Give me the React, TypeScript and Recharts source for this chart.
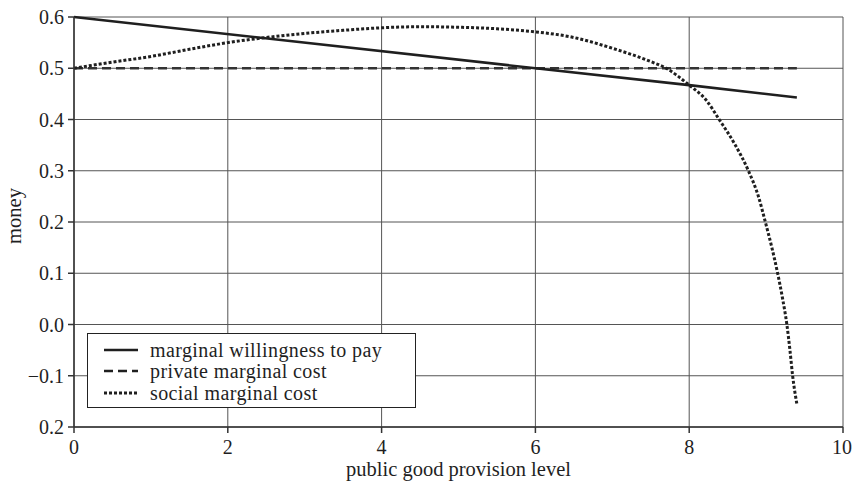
import React from 'react';
import { LineChart, Line, XAxis, YAxis, CartesianGrid, Label } from 'recharts';

// values
const wtpX = [0, 6, 8, 9.4];
const wtpY = [0.6, 0.5, 0.467, 0.443];

const privateX = [0, 9.4];
const privateY = [0.5, 0.5];

const socialX = [0, 0.5, 1, 1.5, 2, 2.5, 3, 3.5, 4, 4.5, 5, 5.5, 6, 6.5, 7, 7.5, 7.7, 8, 8.22, 8.39, 8.6, 8.77, 8.9, 8.99, 9.075, 9.15, 9.215, 9.27, 9.31, 9.345, 9.4];
const socialY = [0.5, 0.512, 0.523, 0.537, 0.55, 0.56, 0.568, 0.574, 0.579, 0.581, 0.58, 0.577, 0.571, 0.56, 0.539, 0.513, 0.5, 0.467, 0.438, 0.4, 0.35, 0.3, 0.25, 0.2, 0.15, 0.1, 0.05, 0.0, -0.05, -0.1, -0.155];

const xTicks = [0, 2, 4, 6, 8, 10];
const yTicks = [-0.2, -0.1, 0, 0.1, 0.2, 0.3, 0.4, 0.5, 0.6];
const yTickLabels = ['0.2', '\u22120.1', '0.0', '0.1', '0.2', '0.3', '0.4', '0.5', '0.6'];

const seriesNames = ['marginal willingness to pay', 'private marginal cost', 'social marginal cost'];

const toRows = (xs: number[], ys: number[]) => xs.map((x, i) => ({ x, y: ys[i] }));

const wtpData = toRows(wtpX, wtpY);
const privateData = toRows(privateX, privateY);
const socialData = toRows(socialX, socialY);

const FONT = '"Liberation Serif", "DejaVu Serif", serif';
const INK = '#1f1f1f';

const styles = [
  { dash: undefined, width: 2.6 },
  { dash: '9 5', width: 2.6 },
  { dash: '3 2', width: 3 },
];

const LegendBox = () => (
  <div
    style={{
      position: 'absolute',
      left: 87,
      top: 333,
      border: '1px solid #222',
      background: '#fff',
      width: 329,
      height: 75,
      boxSizing: 'border-box',
      padding: '5px 0 0 16px',
      fontFamily: FONT,
      fontSize: 20,
      letterSpacing: 0.4,
      color: INK,
      lineHeight: '20px',
    }}
  >
    {seriesNames.map((name, i) => (
      <div key={name} style={{ display: 'flex', alignItems: 'center', height: 21.5 }}>
        <svg width={34} height={10} style={{ marginRight: 12 }}>
          <line x1={0} y1={5} x2={34} y2={5} stroke={INK} strokeWidth={styles[i].width} strokeDasharray={styles[i].dash} />
        </svg>
        <span>{name}</span>
      </div>
    ))}
  </div>
);

const App = () => {
  return (
    <div style={{ position: 'absolute', left: 0, top: 0, width: 852, height: 482, background: '#fff' }}>
      <LineChart width={852} height={482} margin={{ top: 17, right: 9, left: 0, bottom: 0 }}>
        <CartesianGrid stroke="#555" strokeWidth={1} horizontalValues={yTicks} verticalValues={xTicks} />
        <XAxis
          type="number"
          dataKey="x"
          domain={[0, 10]}
          ticks={xTicks}
          allowDuplicatedCategory={false}
          height={55}
          stroke="#333"
          strokeWidth={1.5}
          tickSize={6}
          tick={{ fontFamily: FONT, fontSize: 20, fill: INK }}
          tickMargin={7}
        >
          <Label value="public good provision level" position="insideBottom" offset={6} style={{ fontFamily: FONT, fontSize: 20.5, fill: INK }} />
        </XAxis>
        <YAxis
          type="number"
          dataKey="y"
          domain={[-0.2, 0.6]}
          ticks={yTicks}
          width={74}
          stroke="#333"
          strokeWidth={1.5}
          tickSize={6}
          tickMargin={4}
          tickFormatter={(v: number) => yTickLabels[yTicks.findIndex((t) => Math.abs(t - v) < 1e-9)] ?? String(v)}
          tick={{ fontFamily: FONT, fontSize: 20, fill: INK }}
        >
          <Label value="money" angle={-90} position="insideLeft" offset={14} dy={-6} style={{ fontFamily: FONT, fontSize: 20.5, fill: INK, textAnchor: 'middle' }} />
        </YAxis>
        <Line data={privateData} dataKey="y" name={seriesNames[1]} type="linear" stroke="#333" strokeWidth={2.6} strokeDasharray="9 5" dot={false} isAnimationActive={false} />
        <Line data={wtpData} dataKey="y" name={seriesNames[0]} type="linear" stroke={INK} strokeWidth={2.6} dot={false} isAnimationActive={false} />
        <Line data={socialData} dataKey="y" name={seriesNames[2]} type="monotone" stroke={INK} strokeWidth={3} strokeDasharray="3 2" dot={false} isAnimationActive={false} />
      </LineChart>
      <LegendBox />
    </div>
  );
};

export default App;
